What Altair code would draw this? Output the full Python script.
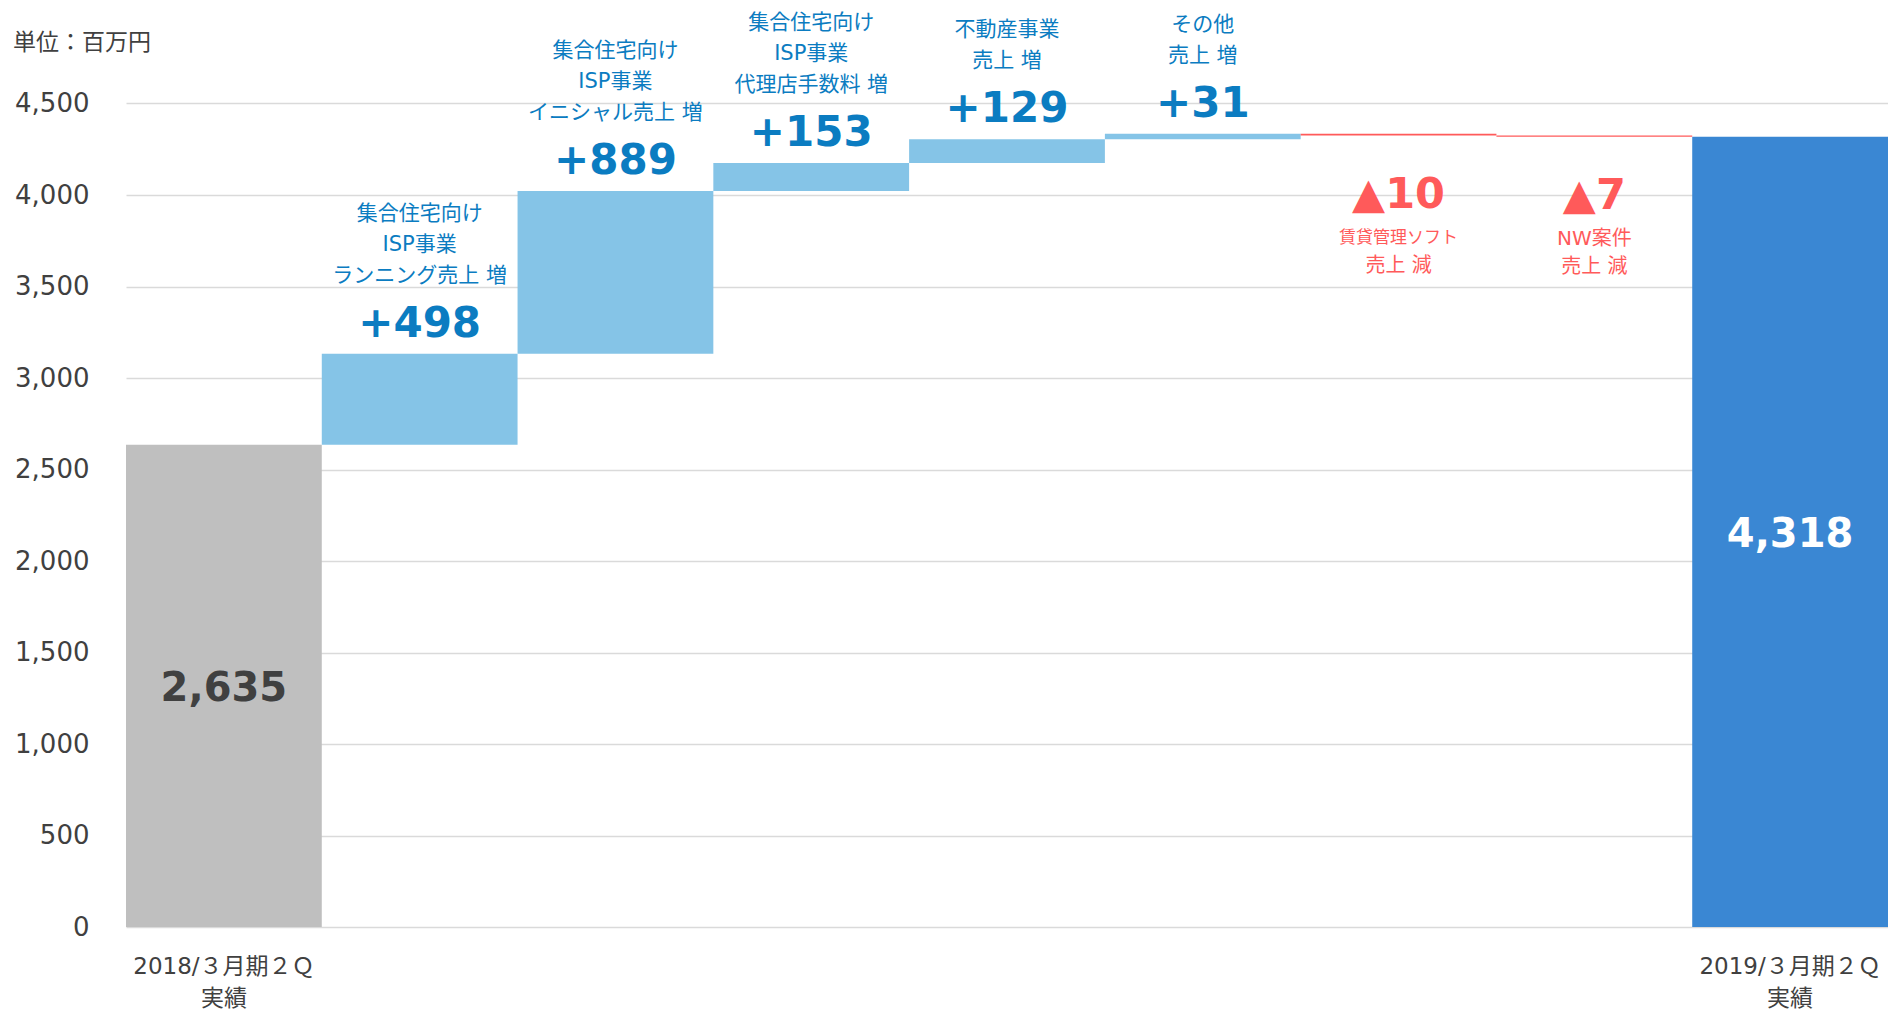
import altair as alt
import pandas as pd

# ---- data ----
keys = ["base", "running", "initial", "agency", "realestate", "other", "rentalsoft", "nw", "total"]
deltas = [2635, 498, 889, 153, 129, 31, -10, -7, 4318]
kinds = ["base", "up", "up", "up", "up", "up", "down", "down", "total"]
descs = [
    "",
    "集合住宅向け\nISP事業\nランニング売上 増",
    "集合住宅向け\nISP事業\nイニシャル売上 増",
    "集合住宅向け\nISP事業\n代理店手数料 増",
    "不動産事業\n売上 増",
    "その他\n売上 増",
    "賃貸管理ソフト\n売上 減",
    "NW案件\n売上 減",
    "",
]
x_line1 = ["2018/３月期２Ｑ", "", "", "", "", "", "", "", "2019/３月期２Ｑ"]
x_line2 = ["実績", "", "", "", "", "", "", "", "実績"]
y_ticks = [0, 500, 1000, 1500, 2000, 2500, 3000, 3500, 4000, 4500]
unit_label = "単位：百万円"

# ---- build table ----
rows = []
run = 0
for k, d, kind, ds, l1, l2 in zip(keys, deltas, kinds, descs, x_line1, x_line2):
    if kind in ("base", "total"):
        s, e = 0, d
        run = d
        lab = f"{d:,}"
    else:
        s, e = run, run + d
        run = e
        lab = f"+{d}" if d > 0 else f"▲{-d}"
    parts = ds.split("\n") if ds else []
    from_bottom = list(reversed(parts)) + ["", "", ""]
    rows.append(dict(key=k, kind=kind, start=s, end=e, top=max(s, e), bottom=min(s, e),
                     mid=(s + e) / 2, label=lab,
                     d1=parts[0] if parts else "", d2=parts[1] if len(parts) > 1 else "",
                     u0=from_bottom[0], u1=from_bottom[1], u2=from_bottom[2],
                     xl1=l1, xl2=l2))
df = pd.DataFrame(rows)

W, H = 1762, 915
NUM_FONT = "DejaVu Sans, Noto Sans CJK JP"
JP_FONT = "DejaVu Sans, Noto Sans CJK JP"
BLUE_TXT = "#0B7CC1"
RED = "#FF5A5A"
DARK = "#404040"

base = alt.Chart(df).encode(
    x=alt.X("key:N", sort=keys, scale=alt.Scale(paddingInner=0, paddingOuter=0), axis=None)
)

bars = base.mark_bar().encode(
    y=alt.Y("start:Q", scale=alt.Scale(domain=[0, 5000], nice=False, zero=True),
            axis=alt.Axis(values=y_ticks, format=",.0f", title=None, labelFont=NUM_FONT,
                          labelFontSize=26, labelColor=DARK, labelPadding=37,
                          ticks=False, domain=False, grid=True, gridColor="#DADADA",
                          gridWidth=1.4)),
    y2="end:Q",
    color=alt.Color("kind:N",
                    scale=alt.Scale(domain=["base", "up", "down", "total"],
                                    range=["#BFBFBF", "#85C4E7", RED, "#3A87D3"]),
                    legend=None),
)

big_labels = base.transform_filter("datum.kind == 'base' || datum.kind == 'total'").mark_text(
    font=NUM_FONT, fontSize=40, fontWeight="bold", baseline="middle", dy=3
).encode(
    y=alt.Y("mid:Q", title=None),
    text="label:N",
    color=alt.condition("datum.kind == 'total'", alt.value("white"), alt.value(DARK)),
)

up = base.transform_filter("datum.kind == 'up'")
up_values = up.mark_text(
    font=NUM_FONT, fontSize=42, fontWeight="bold", baseline="middle", dy=-30, color=BLUE_TXT
).encode(y=alt.Y("top:Q", title=None), text="label:N")

up_lines = [
    up.mark_text(font=JP_FONT, fontSize=21, baseline="middle", dy=-78 - 31 * i,
                 color=BLUE_TXT).encode(y=alt.Y("top:Q", title=None), text=f"{col}:N")
    for i, col in enumerate(["u0", "u1", "u2"])
]

down = base.transform_filter("datum.kind == 'down'")
down_values = down.mark_text(
    font=NUM_FONT, fontSize=43, fontWeight="bold", baseline="middle", dy=59, color=RED
).encode(y=alt.Y("bottom:Q", title=None), text="label:N")

down_d1 = down.mark_text(font=JP_FONT, baseline="middle", dy=102, color=RED).encode(
    y=alt.Y("bottom:Q", title=None), text="d1:N",
    size=alt.condition("datum.key == 'rentalsoft'", alt.value(17), alt.value(20)),
)
down_d2 = down.mark_text(font=JP_FONT, fontSize=20, baseline="middle", dy=130, color=RED).encode(
    y=alt.Y("bottom:Q", title=None), text="d2:N")

xlab1 = base.mark_text(font=JP_FONT, fontSize=23, baseline="middle", color=DARK).encode(
    y=alt.value(H + 40), text="xl1:N")
xlab2 = base.mark_text(font=JP_FONT, fontSize=23, baseline="middle", color=DARK).encode(
    y=alt.value(H + 72), text="xl2:N")

unit = alt.Chart(pd.DataFrame({"t": [unit_label]})).mark_text(
    font=JP_FONT, fontSize=23, align="left", baseline="middle", color=DARK
).encode(x=alt.value(-113), y=alt.value(31), text="t:N")

chart = alt.layer(
    bars, big_labels, up_values, *up_lines, down_values, down_d1, down_d2, xlab1, xlab2, unit
).properties(
    width=W, height=H,
    autosize=alt.AutoSizeParams(type="none"),
    padding={"left": 118, "top": 4, "right": 0, "bottom": 84},
).configure_view(stroke=None)

chart.save("out.html", embed_options={"renderer": "svg", "actions": False})
